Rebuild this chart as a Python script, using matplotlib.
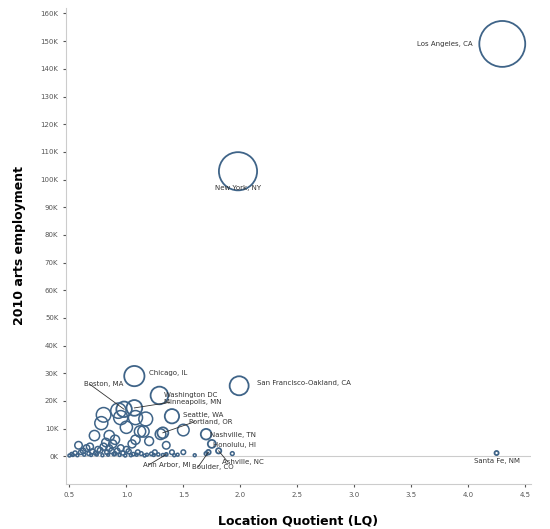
import matplotlib.pyplot as plt

# labelled metros
names = ['Los Angeles, CA', 'New York, NY', 'Chicago, IL', 'San Francisco-Oakland, CA',
         'Boston, MA', 'Washington DC', 'Minneapolis, MN', 'Seattle, WA', 'Portland, OR',
         'Nashville, TN', 'Honolulu, HI', 'Ann Arbor, MI', 'Boulder, CO', 'Ashville, NC',
         'Santa Fe, NM']
lq = [4.3, 1.98, 1.07, 1.99, 0.98, 1.29, 1.07, 1.4, 1.32, 1.7, 1.75, 1.35, 1.72, 1.81, 4.25]
emp = [149000, 103000, 29000, 25500, 17000, 22000, 17500, 14500, 8500, 8000, 4500, 700, 1500, 2000, 1200]
lab_x = [3.55, 1.98, 1.2, 2.15, 0.63, 1.33, 1.33, 1.5, 1.55, 1.73, 1.76, 1.15, 1.58, 1.84, 4.05]
lab_y = [149000, 97000, 30000, 26500, 26000, 22000, 19500, 15000, 12500, 7700, 4000, -3000, -3800, -2000, -1500]
arrow = [False, False, False, False, True, False, True, False, True, False, False, True, True, True, False]

# unlabelled metros
ox = [0.8, 0.93, 0.95, 1.08, 1.17, 0.78, 1.0, 1.12, 0.72, 0.85, 0.9, 1.08, 1.15, 1.3, 1.5, 0.68,
      0.82, 0.88, 0.95, 1.05, 1.2, 1.35, 0.58, 0.65, 0.75, 0.85, 0.92, 1.0, 1.1, 1.25, 1.4, 1.5,
      1.7, 1.93, 0.52, 0.55, 0.6, 0.62, 0.67, 0.7, 0.73, 0.77, 0.8, 0.83, 0.87, 0.9, 0.97, 1.02,
      1.06, 1.13, 1.18, 1.22, 1.28, 1.32, 1.45, 1.6, 0.5, 0.53, 0.57, 0.63, 0.69, 0.74, 0.79,
      0.84, 0.89, 0.94, 0.99, 1.04, 1.09, 1.16, 1.24, 1.42]
oy = [15000, 16500, 14000, 14000, 13500, 12000, 10500, 9000, 7500, 7500, 6000, 6000, 9000, 8000,
      9500, 3500, 5000, 4500, 3000, 4500, 5500, 4000, 4000, 3000, 2500, 3000, 2000, 2500, 1500,
      1500, 1500, 1500, 1000, 1000, 800, 1200, 1500, 2000, 1000, 1800, 1200, 2200, 3500, 1500,
      2000, 1000, 1200, 1800, 800, 1000, 600, 900, 700, 500, 600, 400, 300, 500, 400, 600, 500,
      700, 400, 600, 800, 500, 300, 400, 600, 300, 500, 400]

col = '#3f6488'
fig, ax = plt.subplots(figsize=(5.5, 5.29), dpi=100)
fig.subplots_adjust(left=0.12, right=0.965, top=0.985, bottom=0.085)

def size(v):
    return max(v, 600) / 150000 * 1100

ax.scatter(ox, oy, s=[size(v) for v in oy], facecolors='none', edgecolors=col, linewidths=1.1)
ax.scatter(lq, emp, s=[size(v) for v in emp], facecolors='none', edgecolors=col, linewidths=1.3)

for n, x, y, tx, ty, a in zip(names, lq, emp, lab_x, lab_y, arrow):
    ax.text(tx, ty, n, fontsize=5, color='#333333', va='center',
            ha='center' if n == 'New York, NY' else 'left')
    if a:
        ax.plot([x, tx + 0.05], [y, ty], color='#333333', lw=0.6)

ax.axhline(0, color='#cccccc', lw=0.8, zorder=0)
ax.set_xlim(0.47, 4.55)
ax.set_ylim(-10000, 162000)
ax.set_xticks([0.5, 1.0, 1.5, 2.0, 2.5, 3.0, 3.5, 4.0, 4.5])
ax.set_yticks(range(0, 160001, 10000))
ax.set_yticklabels([f'{v // 1000}K' for v in range(0, 160001, 10000)])
ax.tick_params(labelsize=5, colors='#555555', length=2)
for s in ['top', 'right']:
    ax.spines[s].set_visible(False)
for s in ['left', 'bottom']:
    ax.spines[s].set_color('#cccccc')
ax.set_xlabel('Location Quotient (LQ)', fontsize=9, fontweight='bold', labelpad=12)
ax.set_ylabel('2010 arts employment', fontsize=9, fontweight='bold', labelpad=10)

fig.savefig('out.png')
